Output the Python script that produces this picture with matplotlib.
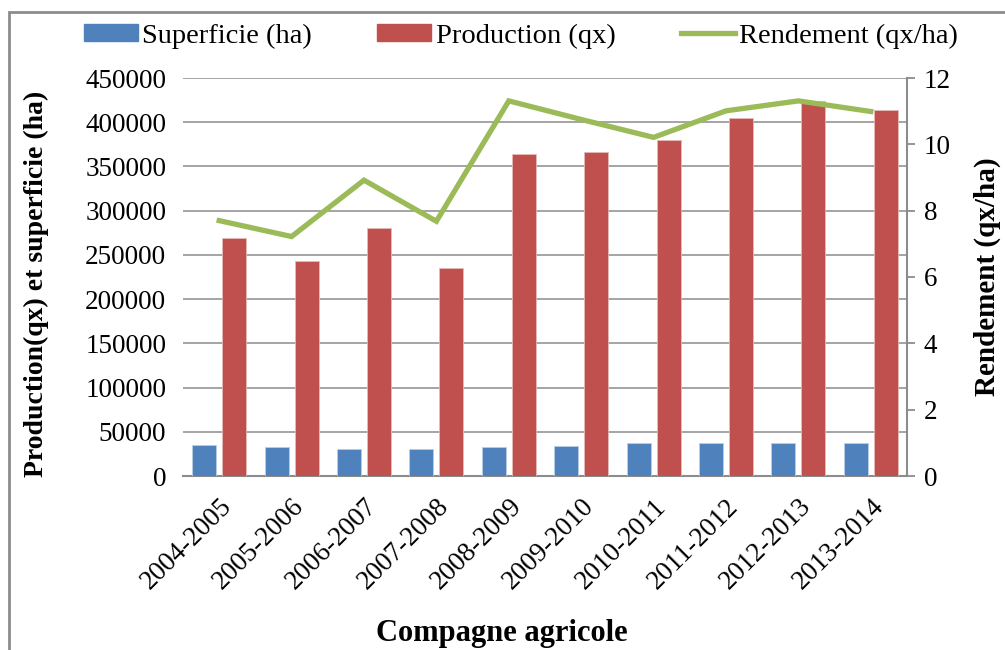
import numpy as np
import matplotlib.pyplot as plt
from matplotlib.patches import Rectangle, Patch
from matplotlib.lines import Line2D

plt.rcParams['font.family'] = ['Liberation Serif', 'DejaVu Serif']

# data
campagnes = ['2004-2005', '2005-2006', '2006-2007', '2007-2008', '2008-2009',
             '2009-2010', '2010-2011', '2011-2012', '2012-2013', '2013-2014']
superficie = [34700, 33200, 30900, 30200, 32500, 33900, 37000, 37000, 37700, 37700]
production = [269000, 243000, 280000, 235000, 364500, 366000, 380000, 405000, 423500, 414000]
rendement  = [7.70, 7.22, 8.92, 7.68, 11.31, 10.75, 10.21, 11.01, 11.31, 10.99]

BLUE, RED, GREEN = '#4F81BD', '#C0504D', '#9BBB59'
GRID = '#8C8C8C'

fig = plt.figure(figsize=(10.05, 6.5), dpi=100)
ax = fig.add_axes([183/1005, 1 - 476/650, (907 - 183)/1005, (476 - 78)/650])
ax2 = ax.twinx()

x = np.arange(len(campagnes))
w = 0.33
ax.bar(x - 0.207, superficie, w, color=BLUE, edgecolor='#B9CDE5', lw=0.6, zorder=3)
ax.bar(x + 0.207, production, w, color=RED, edgecolor='#E6B9B8', lw=0.6, zorder=3)
ax2.plot(x, rendement, color=GREEN, lw=3.8, solid_joinstyle='miter', zorder=4)

ax.set_xlim(-0.5, len(campagnes) - 0.5)
ax.set_ylim(0, 450000)
ax.set_yticks(np.arange(0, 450001, 50000))
ax2.set_ylim(0, 12)
ax2.set_yticks(np.arange(0, 13, 2))

ax.grid(axis='y', color=GRID, lw=1.1, zorder=0)
ax.set_axisbelow(True)
for a in (ax, ax2):
    for s in ('top', 'left'):
        a.spines[s].set_visible(False)
ax.spines['right'].set_visible(False)
ax2.spines['bottom'].set_visible(False)
ax.spines['bottom'].set_color(GRID)
ax.spines['bottom'].set_linewidth(1.5)
ax2.spines['right'].set_color(GRID)
ax2.spines['right'].set_linewidth(1.5)

ax.tick_params(axis='y', length=0, labelsize=19.5, pad=12)
ax.tick_params(axis='x', length=0, labelsize=19.5, pad=13)
ax2.tick_params(axis='y', length=6, width=1.3, color=GRID, labelsize=19.5, pad=6)

ax.set_xticks(x)
ax.set_xticklabels(campagnes, rotation=45, ha='right', va='top', rotation_mode='anchor')

# labels
fig.text(502/1005, 1 - 634/650, 'Compagne agricole', ha='center', va='center',
         fontsize=22, fontweight='bold')
fig.text(36/1005, 1 - 284/650, 'Production(qx) et superficie (ha)', rotation=90,
         ha='center', va='center', fontsize=20, fontweight='bold')
fig.text(987/1005, 1 - 277/650, 'Rendement (qx/ha)', rotation=90,
         ha='center', va='center', fontsize=21, fontweight='bold')

# legend
handles = [Patch(color=BLUE), Patch(color=RED), Line2D([], [], color=GREEN, lw=3.8)]
fig.legend(handles, ['Superficie (ha)', 'Production (qx)', 'Rendement (qx/ha)'],
           loc='center', bbox_to_anchor=(521/1005, 1 - 36/650), ncol=3, frameon=False,
           fontsize=20.5, handlelength=1.9, handleheight=0.55, handletextpad=0.15,
           columnspacing=2.3, borderpad=0)

# outer frame (cropped on right and bottom)
fig.add_artist(Rectangle((9/1005, -0.1), 1.2, 1 - 12/650 + 0.1,
                         transform=fig.transFigure, fill=False, ec='#8C8C8C', lw=2))

fig.savefig('out.png', dpi=100)
